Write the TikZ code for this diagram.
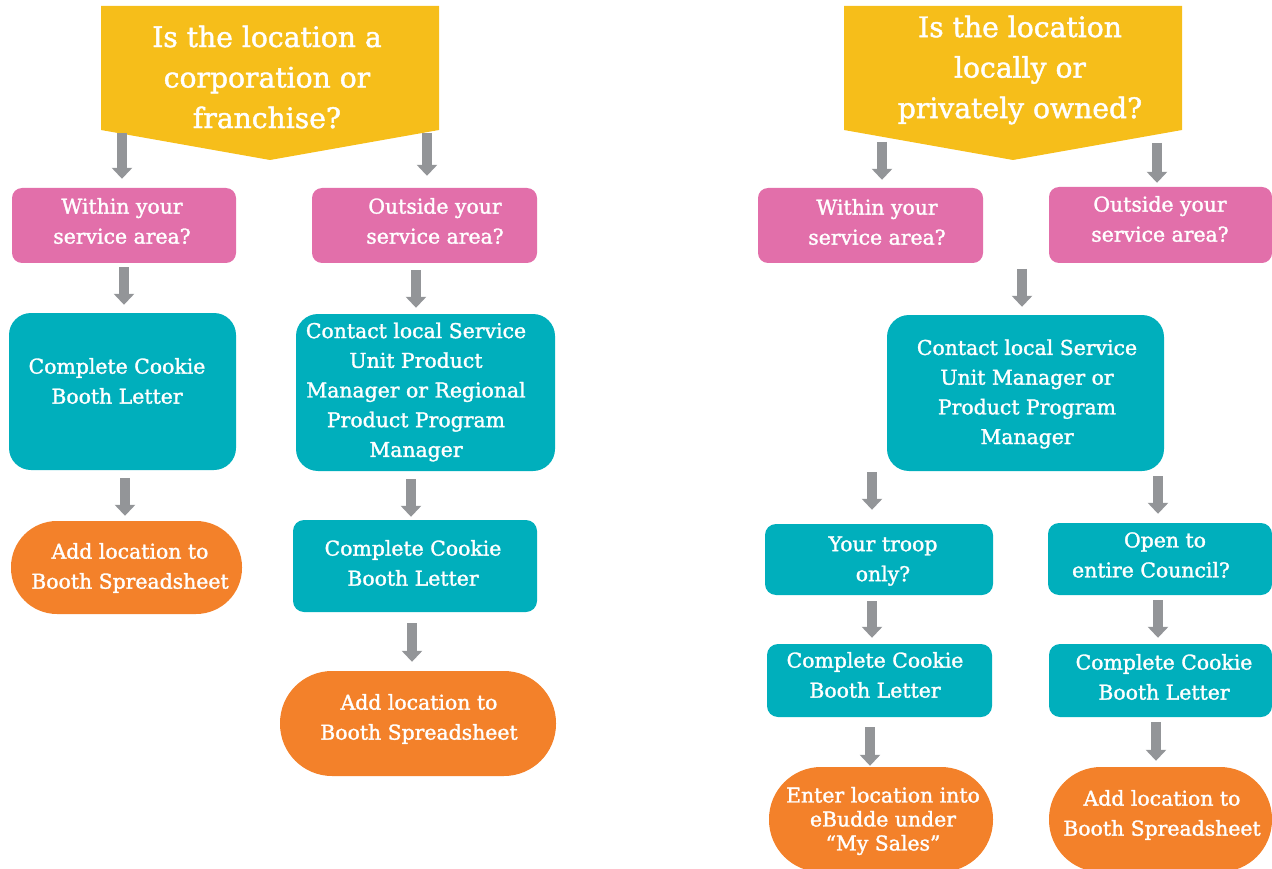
\documentclass[tikz,border=0pt]{standalone}
\usepackage{fontspec}
\setmainfont{DejaVu Serif}
\newfontfamily\boxfont[FakeBold=1.5]{DejaVu Serif}
\usetikzlibrary{arrows.meta}
\definecolor{hdryellow}{HTML}{F6BE1A}
\definecolor{qpink}{HTML}{E26FAA}
\definecolor{steal}{HTML}{00AFBC}
\definecolor{endorange}{HTML}{F3812A}
\definecolor{arrgray}{HTML}{939598}
\begin{document}
\begin{tikzpicture}[x=1pt,y=-1pt,
  pinkbox/.style={fill=qpink,rounded corners=10pt,inner sep=0pt},
  tealbig/.style={fill=steal,rounded corners=22pt,inner sep=0pt},
  tealbox/.style={fill=steal,rounded corners=11pt,inner sep=0pt},
  endbox/.style={fill=endorange,inner sep=0pt},
  txt/.style={text=white,align=center,inner sep=0pt,font=\boxfont\fontsize{20.4}{30}\selectfont},
  hdrtxt/.style={text=white,align=center,inner sep=0pt,font=\boxfont\fontsize{28.2}{40.5}\selectfont},
  arr/.style={draw=arrgray,line width=9.5pt,-{Triangle[width=20pt,length=11pt]}}]
\useasboundingbox (0,0) rectangle (1272,869);
\clip (0,0) rectangle (1272,869);

% question banners
\fill[hdryellow] (101,6) -- (439,6) -- (439,130) -- (270,160) -- (101,130) -- cycle;
\fill[hdryellow] (844,6) -- (1182,6) -- (1182,130) -- (1013,160) -- (844,130) -- cycle;
\node[hdrtxt] (h1) at (267,77) {Is the location a\\corporation or\\franchise?};
\node[hdrtxt] (h2) at (1020,70) {Is the location\\locally or\\privately owned?};
\coordinate (h1l) at (122,133);
\coordinate (h1r) at (427,133);
\coordinate (h2l) at (882,142);
\coordinate (h2r) at (1157,143);
\coordinate (j2) at (1022,269);

% boxes
\node[pinkbox,minimum width=224pt,minimum height=75pt] (w1) at (124,225.5) {};
\node[pinkbox,minimum width=225pt,minimum height=75pt] (o1) at (424.5,225.5) {};
\node[pinkbox,minimum width=225pt,minimum height=75pt] (w2) at (870.5,225.5) {};
\node[pinkbox,minimum width=223pt,minimum height=76pt] (o2) at (1160.5,225) {};

\node[tealbig,minimum width=227pt,minimum height=157pt] (c1) at (122.5,391.5) {};
\node[tealbig,minimum width=259pt,minimum height=157pt] (c2) at (425.5,392.5) {};
\node[tealbig,minimum width=277pt,minimum height=156pt] (c3) at (1025.5,393) {};

\node[endbox,rounded corners=46pt,minimum width=231pt,minimum height=93pt] (a1) at (126.5,567.5) {};
\node[tealbox,minimum width=244pt,minimum height=92pt] (b2) at (415,566) {};
\node[tealbox,minimum width=228pt,minimum height=71pt] (t3) at (879,559.5) {};
\node[tealbox,minimum width=224pt,minimum height=72pt] (e3) at (1160,559) {};

\node[endbox,rounded corners=52pt,minimum width=276pt,minimum height=105pt] (a2) at (418,723.5) {};
\node[tealbox,minimum width=225pt,minimum height=73pt] (b3) at (879.5,680.5) {};
\node[tealbox,minimum width=223pt,minimum height=73pt] (b4) at (1160.5,680.5) {};

\node[endbox,rounded corners=52pt,minimum width=224pt,minimum height=105pt] (m3) at (881,819.5) {};
\node[endbox,rounded corners=52pt,minimum width=223pt,minimum height=105pt] (a3) at (1160.5,819.5) {};

% texts
\node[txt] (tw1) at (122,221) {Within your\\service area?};
\node[txt] (to1) at (435,221) {Outside your\\service area?};
\node[txt] (tw2) at (877,222) {Within your\\service area?};
\node[txt] (to2) at (1160,219) {Outside your\\service area?};
\node[txt] (tc1) at (117,381) {Complete Cookie\\Booth Letter};
\node[txt,font=\boxfont\fontsize{20.4}{29.7}\selectfont] (tc2) at (416,392) {Contact local Service\\Unit Product\\Manager or Regional\\Product Program\\Manager};
\node[txt,font=\boxfont\fontsize{20.4}{29.7}\selectfont] (tc3) at (1027,394) {Contact local Service\\Unit Manager or\\Product Program\\Manager};
\node[txt] (ta1) at (130,568) {Add location to\\Booth Spreadsheet};
\node[txt] (tb2) at (413,563) {Complete Cookie\\Booth Letter};
\node[txt] (tt3) at (883,561) {Your troop\\only?};
\node[txt] (te3) at (1151,555) {\hspace*{28pt}Open to\\entire Council?};
\node[txt] (ta2) at (419,719) {Add location to\\Booth Spreadsheet};
\node[txt] (tb3) at (875,675) {Complete Cookie\\Booth Letter};
\node[txt] (tb4) at (1164,677) {Complete Cookie\\Booth Letter};
\node[txt,font=\boxfont\fontsize{20.4}{24}\selectfont] (tm3) at (883,821) {Enter location into\\eBudde under\\“My Sales”};
\node[txt] (ta3) at (1162,815) {Add location to\\Booth Spreadsheet};

% arrows
\draw[arr,shorten >=9pt] (h1l) -- ([xshift=-2pt]w1.north);
\draw[arr,shorten >=12pt] (h1r) -- ([xshift=2.5pt]o1.north);
\draw[arr,shorten >=8pt] (h2l) -- ([xshift=11.5pt]w2.north);
\draw[arr,shorten >=4pt] (h2r) -- ([xshift=-3.5pt]o2.north);
\draw[arr,shorten <=4pt,shorten >=8pt] (w1.south) -- ([xshift=1.5pt]c1.north);
\draw[arr,shorten <=7pt,shorten >=6pt] ([xshift=-8.5pt]o1.south) -- ([xshift=-9.5pt]c2.north);
\draw[arr,shorten >=8pt] (j2) -- ([xshift=-3.5pt]c3.north);
\draw[arr,shorten <=8pt,shorten >=5pt] ([xshift=2.5pt]c1.south) -- ([xshift=-1.5pt]a1.north);
\draw[arr,shorten <=8pt,shorten >=3pt] ([xshift=-14.5pt]c2.south) -- ([xshift=-4pt]b2.north);
\draw[arr,shorten <=1pt,shorten >=14pt] ([xshift=-153.5pt]c3.south) -- ([xshift=-7pt]t3.north);
\draw[arr,shorten <=5pt,shorten >=9pt] ([xshift=132.5pt]c3.south) -- ([xshift=-2pt]e3.north);
\draw[arr,shorten <=11pt,shorten >=9pt] ([xshift=-3pt]b2.south) -- ([xshift=-6pt]a2.north);
\draw[arr,shorten <=6pt,shorten >=6pt] ([xshift=-7pt]t3.south) -- ([xshift=-7.5pt]b3.north);
\draw[arr,shorten <=5pt,shorten >=6pt] ([xshift=-2pt]e3.south) -- ([xshift=-2.5pt]b4.north);
\draw[arr,shorten <=10pt,shorten >=1pt] ([xshift=-9.5pt]b3.south) -- ([xshift=-11pt]m3.north);
\draw[arr,shorten <=5pt,shorten >=6pt] ([xshift=-4.5pt]b4.south) -- ([xshift=-4.5pt]a3.north);
\end{tikzpicture}
\end{document}
